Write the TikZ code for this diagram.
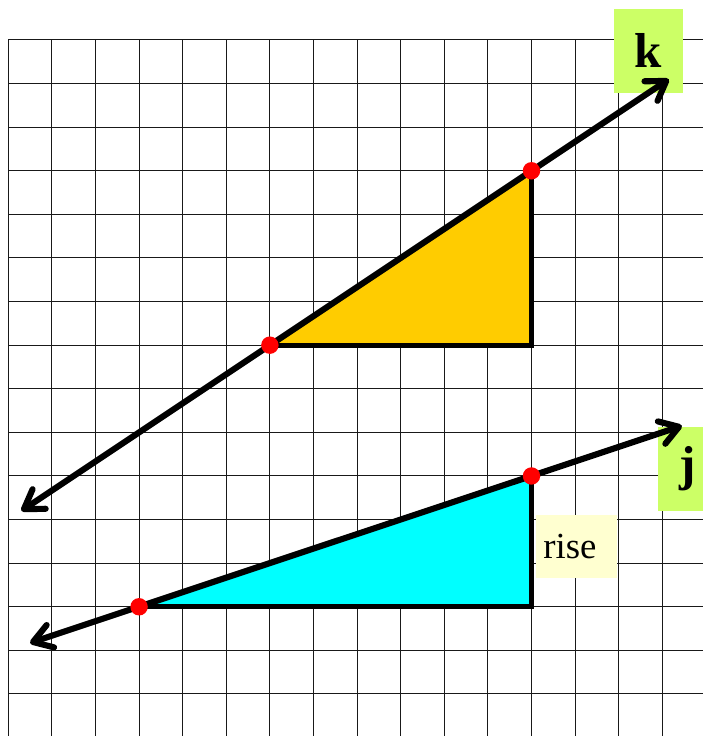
\documentclass[tikz,border=0pt]{standalone}
\usepackage{fontspec}
\setmainfont{Liberation Serif}
\usetikzlibrary{arrows.meta}
\definecolor{orangefill}{RGB}{255,204,0}
\definecolor{cyanfill}{RGB}{0,255,255}
\definecolor{labelgreen}{RGB}{204,255,102}
\definecolor{riseyellow}{RGB}{255,255,208}
\definecolor{dotred}{RGB}{255,0,0}
\tikzset{
  gridline/.style={line width=0.65pt, black!90},
  leg/.style={line width=3.4pt, black, line join=miter},
  dblarrow/.style={line width=4pt, black, line cap=round,
    {Straight Barb[length=0.42cm,width=0.54cm,round]}-{Straight Barb[length=0.42cm,width=0.54cm,round]}},
  reddot/.style={circle, fill=dotred, inner sep=0pt, minimum size=0.4cm},
  labelbox/.style={fill=labelgreen, inner sep=0pt, minimum width=1.58cm, minimum height=1.93cm},
  bigtext/.style={inner sep=0pt, font=\fontsize{32}{36}\selectfont\bfseries},
  risebox/.style={fill=riseyellow, inner sep=0pt, minimum width=1.86cm, minimum height=1.45cm},
  risetext/.style={inner sep=0pt, font=\fontsize{24}{28}\selectfont}
}
\begin{document}
\begin{tikzpicture}[x=1cm,y=-1cm]
\useasboundingbox (-0.19,-0.917) rectangle (15.934,15.964);
\fill[white] (-0.19,-0.917) rectangle (15.934,15.964);
% grid
\foreach \i in {0,...,15} \draw[gridline] (\i,0) -- (\i,15.964);
\foreach \j in {0,...,15} \draw[gridline] (0,\j) -- (15.934,\j);
% key points
\coordinate (K1) at (6,7);
\coordinate (K2) at (12,3);
\coordinate (K3) at (12,7);
\coordinate (J1) at (3,13);
\coordinate (J2) at (12,10);
\coordinate (J3) at (12,13);
\coordinate (kA) at (0.3,10.8);
\coordinate (kB) at (15.15,0.9);
\coordinate (jA) at (0.5,13.83);
\coordinate (jB) at (15.45,8.85);
% triangles
\fill[orangefill] (K1) -- (K2) -- (K3) -- cycle;
\fill[cyanfill] (J1) -- (J2) -- (J3) -- cycle;
\draw[leg] (K2) -- (K3) -- (K1);
\draw[leg] (J2) -- (J3) -- (J1);
% labels
\node[labelbox] (kbox) at (14.68,0.25) {};
\node[bigtext] (klab) at (kbox.center) {k};
\node[labelbox] (jbox) at (15.69,9.84) {};
\node[bigtext] (jlab) at ([xshift=-0.1cm]jbox.center) {j};
\node[risebox] (rbox) at (13.03,11.62) {};
\node[risetext] (rise) at ([xshift=-0.15cm]rbox.center) {rise};
% lines
\draw[dblarrow] (kA) -- (kB);
\draw[dblarrow] (jA) -- (jB);
% dots
\node[reddot] (d1) at (K1) {};
\node[reddot] (d2) at (K2) {};
\node[reddot] (d3) at (J1) {};
\node[reddot] (d4) at (J2) {};
\end{tikzpicture}
\end{document}
